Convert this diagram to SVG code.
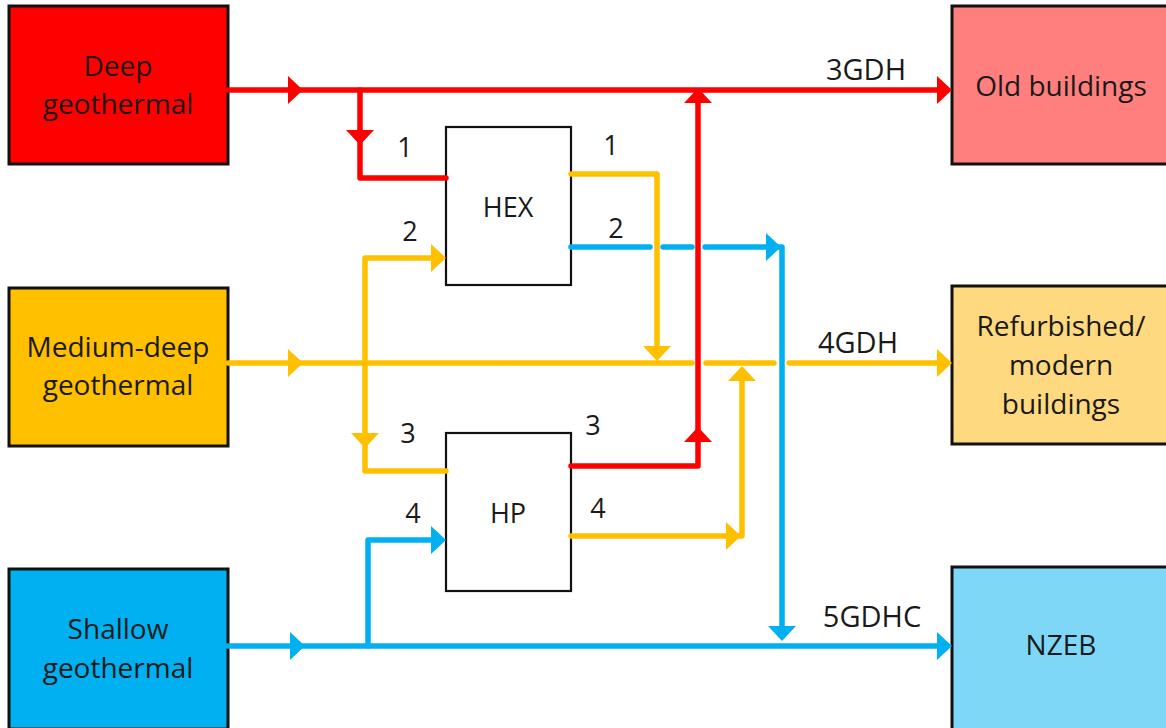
<svg xmlns="http://www.w3.org/2000/svg" xmlns:xlink="http://www.w3.org/1999/xlink" width="1166" height="728" viewBox="0 0 1166 728">
<style>
text{font-family:"Open Sans","Liberation Sans",sans-serif;font-size:28px;fill:#1a1a1a;text-anchor:middle}
.box{stroke:#111;stroke-width:3}
.unit{fill:#fff;stroke:#111;stroke-width:2.2}
.ln{fill:none;stroke-width:5.5;stroke-linecap:round;stroke-linejoin:round}
.r{stroke:#ff0000}.y{stroke:#ffc000}.b{stroke:#00b0f0}
.num{font-size:27px}
.net{font-size:29px}
</style>
<defs>
<path id="ah" d="M0,0 L-15,-14 L-15,14 Z"/>
</defs>
<rect width="1166" height="728" fill="#fff"/>

<g id="deep-geothermal">
<rect class="box" x="9" y="6" width="219" height="158" fill="#ff0000"/>
<text x="118" y="76">Deep</text>
<text x="118" y="114">geothermal</text>
</g>
<g id="medium-deep-geothermal">
<rect class="box" x="9" y="288" width="219" height="158" fill="#ffc000"/>
<text x="118" y="357">Medium-deep</text>
<text x="118" y="395">geothermal</text>
</g>
<g id="shallow-geothermal">
<rect class="box" x="9" y="569" width="219" height="160" fill="#00b0f0"/>
<text x="118" y="639">Shallow</text>
<text x="118" y="678">geothermal</text>
</g>
<g id="old-buildings">
<rect class="box" x="952" y="6" width="220" height="158" fill="#ff7f7f"/>
<text x="1061" y="96">Old buildings</text>
</g>
<g id="refurbished-buildings">
<rect class="box" x="952" y="286" width="220" height="158" fill="#ffd97f"/>
<text x="1061" y="336">Refurbished/</text>
<text x="1061" y="375">modern</text>
<text x="1061" y="414">buildings</text>
</g>
<g id="nzeb">
<rect class="box" x="952" y="567" width="220" height="165" fill="#7fd7f7"/>
<text x="1061" y="655">NZEB</text>
</g>
<g id="hex">
<rect class="unit" x="446" y="127" width="125" height="158"/>
<text class="num" x="508" y="217">HEX</text>
</g>
<g id="hp">
<rect class="unit" x="446" y="433" width="125" height="158"/>
<text class="num" x="508" y="523">HP</text>
</g>

<g id="connectors">
<!-- red -->
<path class="ln r" d="M228,90 H944"/>
<path class="ln r" d="M360,90 V178 H446"/>
<path class="ln r" d="M571,466 H698 V96"/>
<!-- yellow -->
<path class="ln y" d="M228,363 H692"/>
<path class="ln y" d="M706,363 H774"/>
<path class="ln y" d="M789,363 H944"/>
<path class="ln y" d="M571,174 H657 V352"/>
<path class="ln y" d="M440,258 H365 V471 H446"/>
<path class="ln y" d="M571,536 H742 V372"/>
<!-- blue -->
<path class="ln b" d="M228,646 H944"/>
<path class="ln b" d="M368,646 V540 H440"/>
<path class="ln b" d="M571,247 H650"/>
<path class="ln b" d="M663,247 H692"/>
<path class="ln b" d="M705,247 H782 V634"/>
<!-- arrowheads -->
<g fill="#ff0000">
<use xlink:href="#ah" transform="translate(303,90)"/>
<use xlink:href="#ah" transform="translate(360,145) rotate(90)"/>
<use xlink:href="#ah" transform="translate(698,88) rotate(-90)"/>
<use xlink:href="#ah" transform="translate(698,427) rotate(-90)"/>
<use xlink:href="#ah" transform="translate(952,90)"/>
</g>
<g fill="#ffc000">
<use xlink:href="#ah" transform="translate(303,363)"/>
<use xlink:href="#ah" transform="translate(657,361) rotate(90)"/>
<use xlink:href="#ah" transform="translate(446,258)"/>
<use xlink:href="#ah" transform="translate(365,448) rotate(90)"/>
<use xlink:href="#ah" transform="translate(741,536)"/>
<use xlink:href="#ah" transform="translate(742,366) rotate(-90)"/>
<use xlink:href="#ah" transform="translate(952,363)"/>
</g>
<g fill="#00b0f0">
<use xlink:href="#ah" transform="translate(305,646)"/>
<use xlink:href="#ah" transform="translate(446,540)"/>
<use xlink:href="#ah" transform="translate(781,247)"/>
<use xlink:href="#ah" transform="translate(782,641) rotate(90)"/>
<use xlink:href="#ah" transform="translate(952,646)"/>
</g>
</g>

<g id="labels">
<text class="num" x="405" y="157">1</text>
<text class="num" x="410" y="241">2</text>
<text class="num" x="611" y="155">1</text>
<text class="num" x="616" y="238">2</text>
<text class="num" x="408" y="443">3</text>
<text class="num" x="593" y="435">3</text>
<text class="num" x="413" y="523">4</text>
<text class="num" x="598" y="518">4</text>
<text class="net" x="866" y="80">3GDH</text>
<text class="net" x="858" y="353">4GDH</text>
<text class="net" x="872" y="627">5GDHC</text>
</g>
</svg>
